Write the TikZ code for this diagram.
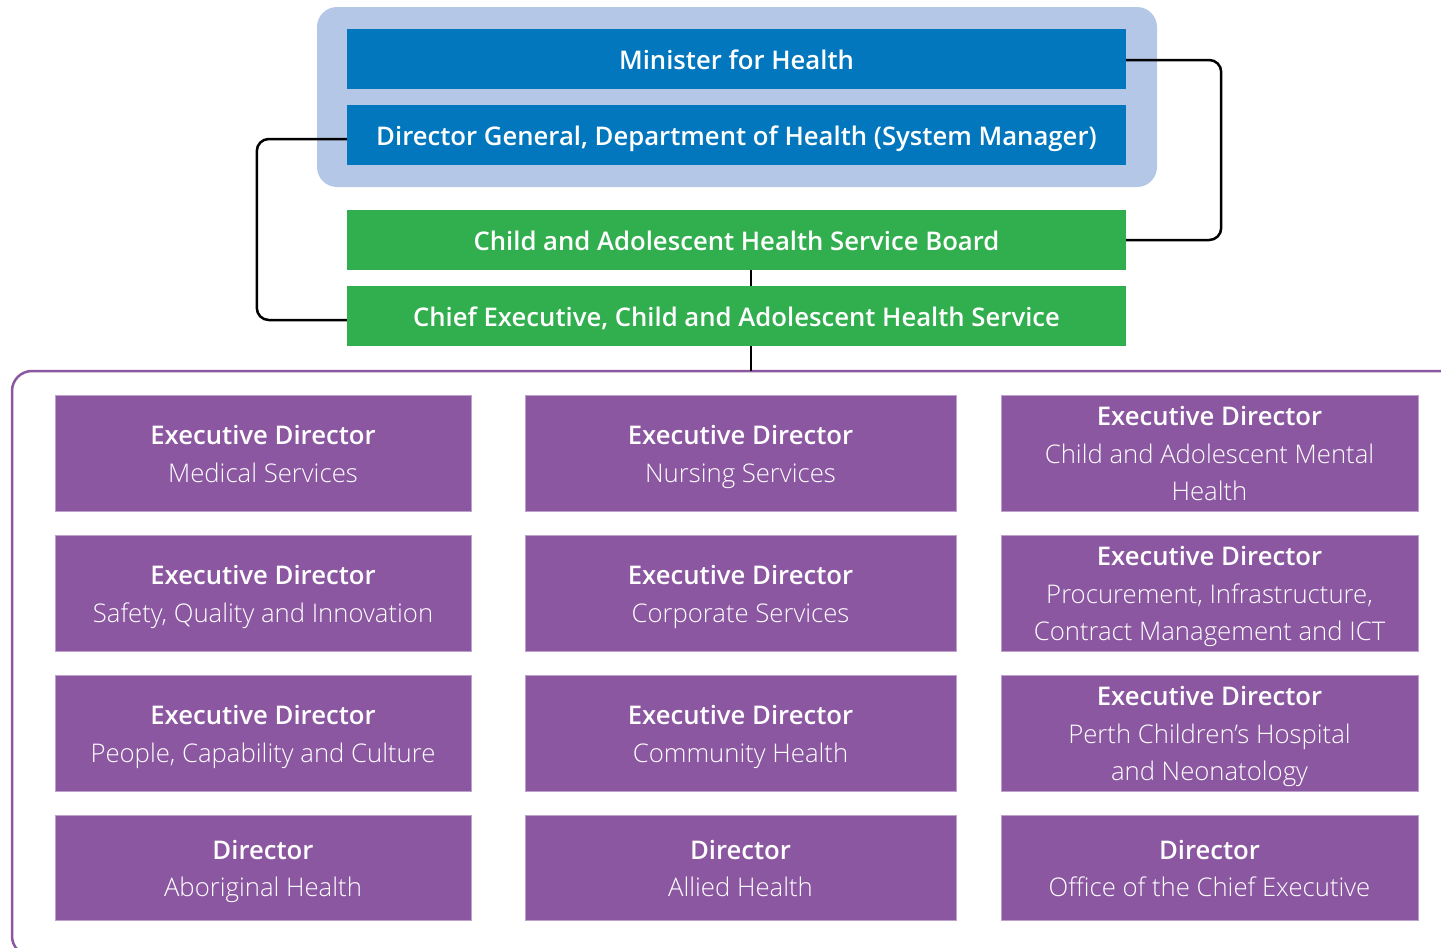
\documentclass[tikz,border=0pt]{standalone}
\usepackage{fontspec}
\setmainfont{Open Sans}[BoldFont={Open Sans Semibold}]
\newfontfamily\lightfont{Open Sans Light}
\newcommand\mystrut{\rule[-8.5pt]{0pt}{37.5pt}}
\definecolor{bgblue}{RGB}{180,199,231}
\definecolor{dblue}{RGB}{2,119,190}
\definecolor{hgreen}{RGB}{49,174,77}
\definecolor{hpurple}{RGB}{140,87,161}
\definecolor{pedge}{RGB}{190,160,205}
\begin{document}
\begin{tikzpicture}[x=1pt,y=-1pt,
  base/.style={rectangle, inner sep=0pt, align=center, text=white,
    font=\fontsize{25.7}{37.5}\selectfont},
  topbox/.style={base, minimum width=779pt, minimum height=60pt, font=\fontsize{25.7}{37.5}\selectfont\bfseries},
  bluebox/.style={topbox, fill=dblue},
  greenbox/.style={topbox, fill=hgreen},
  pbox/.style={base, fill=hpurple, draw=pedge, line width=0.8pt},
  link/.style={draw=black, line width=2.5pt, rounded corners=12pt}]
\useasboundingbox (0,0) rectangle (1441,948);
\clip (0,0) rectangle (1441,948);
% background panel
\node[fill=bgblue, rounded corners=20pt, minimum width=840pt, minimum height=180pt, inner sep=0pt] (sys) at (737,97) {};
\node[bluebox] (min) at (736.5,59) {\mystrut Minister for Health};
\node[bluebox] (dg) at (736.5,135) {\mystrut Director General, Department of Health (System Manager)};
\node[greenbox] (board) at (736.5,240) {\mystrut Child and Adolescent Health Service Board};
\node[greenbox] (ce) at (736.5,316) {\mystrut Chief Executive, Child and Adolescent Health Service};
% purple frame
\draw[hpurple, line width=2.5pt, rounded corners=20pt] (12,371) rectangle (1480,956);
\coordinate (ftop) at (751,371);
% connectors
\draw[link] ([yshift=-4pt]dg.west) -- ++(-90,0) |- ([yshift=-4pt]ce.west);
\draw[link] ([yshift=-1pt]min.east) -- ++(95,0) |- (board.east);
\draw[black, line width=2.5pt] ([xshift=14.5pt]board.south) -- ([xshift=14.5pt]ce.north);
\draw[black, line width=2.5pt] ([xshift=14.5pt]ce.south) -- (ftop);
% purple boxes
\tikzset{c1/.style={pbox, minimum width=416pt}, c2/.style={pbox, minimum width=431pt}, c3/.style={pbox, minimum width=417pt},
  r/.style={minimum height=116pt}, r4/.style={minimum height=105pt}}
\node[c1,r] (med) at (263,453) {\mystrut\textbf{Executive Director}\\\mystrut{\lightfont Medical Services}};
\node[c2,r] (nur) at (740.5,453) {\mystrut\textbf{Executive Director}\\\mystrut{\lightfont Nursing Services}};
\node[c3,r] (camh) at (1209.5,453) {\mystrut\textbf{Executive Director}\\\mystrut{\lightfont Child and Adolescent Mental}\\\mystrut{\lightfont Health}};
\node[c1,r] (sqi) at (263,593) {\mystrut\textbf{Executive Director}\\\mystrut{\lightfont Safety, Quality and Innovation}};
\node[c2,r] (corp) at (740.5,593) {\mystrut\textbf{Executive Director}\\\mystrut{\lightfont Corporate Services}};
\node[c3,r] (proc) at (1209.5,593) {\mystrut\textbf{Executive Director}\\\mystrut{\lightfont Procurement, Infrastructure,}\\\mystrut{\lightfont Contract Management and ICT}};
\node[c1,r] (pcc) at (263,733) {\mystrut\textbf{Executive Director}\\\mystrut{\lightfont People, Capability and Culture}};
\node[c2,r] (comm) at (740.5,733) {\mystrut\textbf{Executive Director}\\\mystrut{\lightfont Community Health}};
\node[c3,r] (pch) at (1209.5,733) {\mystrut\textbf{Executive Director}\\\mystrut{\lightfont Perth Children’s Hospital}\\\mystrut{\lightfont and Neonatology}};
\node[c1,r4] (abo) at (263,867.5) {\mystrut\textbf{Director}\\\mystrut{\lightfont Aboriginal Health}};
\node[c2,r4] (all) at (740.5,867.5) {\mystrut\textbf{Director}\\\mystrut{\lightfont Allied Health}};
\node[c3,r4] (oce) at (1209.5,867.5) {\mystrut\textbf{Director}\\\mystrut{\lightfont Office of the Chief Executive}};
\end{tikzpicture}
\end{document}
